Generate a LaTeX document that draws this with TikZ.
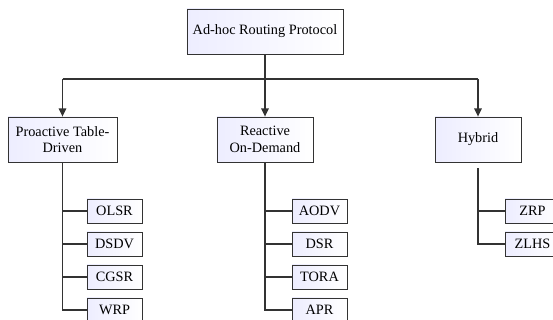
\documentclass[tikz,border=0pt]{standalone}
\usepackage{fontspec}
\setmainfont{Liberation Serif}
\usetikzlibrary{arrows.meta}

\tikzset{
  box/.style={draw=black!80, line width=0.7pt, left color=blue!7, right color=white,
    align=center, inner sep=2pt, minimum height=1.35cm,
    font=\fontsize{12.2}{14}\selectfont},
  leaf/.style={box, minimum width=1.65cm, minimum height=0.72cm},
  link/.style={draw=black!80, line width=1.1pt},
  down/.style={link, -{Triangle[length=7pt,width=6.5pt]}}
}

\begin{document}
\begin{tikzpicture}
[
  x=0.03cm, y=-0.03cm
]
\useasboundingbox (0,0) rectangle (553,320);

\node[box, minimum width=4.68cm] (root) at (265,31.5) {Ad-hoc Routing Protocol};

\node[box, minimum width=3.27cm] (pro) at (62.5,139.5) {Proactive Table-\\Driven};
\node[box, minimum width=2.88cm] (rea) at (265,139.5) {Reactive\\On-Demand};
\node[box, minimum width=2.58cm] (hyb) at (478,139.5) {Hybrid};

\node[leaf] (olsr) at (114.5,211) {OLSR};
\node[leaf] (dsdv) at (114.5,244) {DSDV};
\node[leaf] (cgsr) at (114.5,277) {CGSR};
\node[leaf] (wrp)  at (114.5,310) {WRP};

\node[leaf] (aodv) at (319.5,211) {AODV};
\node[leaf] (dsr)  at (319.5,244) {DSR};
\node[leaf] (tora) at (319.5,277) {TORA};
\node[leaf] (apr)  at (319.5,310) {APR};

\node[leaf] (zrp)  at (532.5,211) {ZRP};
\node[leaf] (zlhs) at (532.5,244) {ZLHS};

\coordinate (bus) at (265,79);

\draw[link] (root.south) -- (bus);
\draw[link] (bus -| pro.north) -- (bus -| hyb.north);
\draw[down] (bus -| pro.north) -- (pro.north);
\draw[down] (bus) -- (rea.north);
\draw[down] (bus -| hyb.north) -- (hyb.north);

\foreach \l in {olsr,dsdv,cgsr,wrp}
  \draw[link] (pro.south) |- (\l.west);
\foreach \l in {aodv,dsr,tora,apr}
  \draw[link] (rea.south) |- (\l.west);
\foreach \l in {zrp,zlhs}
  \draw[link] ([yshift=-0.18cm]hyb.south) |- (\l.west);
\end{tikzpicture}
\end{document}
